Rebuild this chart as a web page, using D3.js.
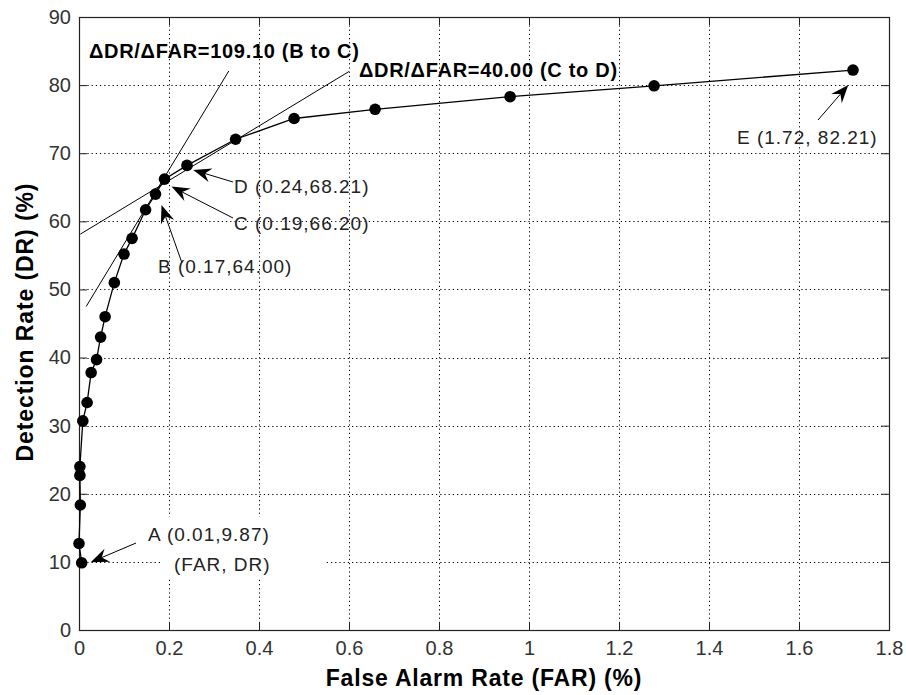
<!DOCTYPE html>
<html>
<head>
<meta charset="utf-8">
<script src="https://cdn.jsdelivr.net/npm/d3@7"></script>
<style>
  body { margin: 0; background: #fff; }
  svg { display: block; font-family: "Liberation Sans", Arial, Helvetica, sans-serif; }
</style>
</head>
<body>
<svg id="chart" width="906" height="695"></svg>
<script>
// ROC operating points of the detector
const far = [0.006, 0.000, 0.003, 0.002, 0.002, 0.0085, 0.018, 0.027, 0.039, 0.048, 0.058, 0.0785,
             0.100, 0.118, 0.148, 0.17, 0.19, 0.24, 0.348, 0.478, 0.658, 0.958, 1.278, 1.72];
const dr  = [9.87, 12.7, 18.35, 22.7, 24.0, 30.7, 33.4, 37.8, 39.7, 43.0, 46.0, 51.0,
             55.2, 57.5, 61.7, 64.00, 66.20, 68.21, 72.05, 75.1, 76.45, 78.3, 79.9, 82.21];

const xTicks = [0, 0.2, 0.4, 0.6, 0.8, 1, 1.2, 1.4, 1.6, 1.8];
const yTicks = [0, 10, 20, 30, 40, 50, 60, 70, 80, 90];

// Named operating points
const markNames = ["A", "B", "C", "D", "E"];
const markIndex = [0, 15, 16, 17, 23];
const markSep   = [",", ",", ",", ",", ", "];

// Tangent lines (slope in DR per FAR)
const tangentNames  = ["B to C", "C to D"];
const tangentSlopes = [109.10, 40.00];
const tangentAnchorFar = [0.17, 0.30];
const tangentAnchorDr  = [64.3, 70.0];
const tangentFrom = [0.016, 0.003];
const tangentTo   = [0.333, 0.600];

const svg = d3.select("#chart");
const L = 79, R = 889, T = 17, B = 630;

const x = d3.scaleLinear().domain([0, 1.8]).range([L, R]);
const y = d3.scaleLinear().domain([0, 90]).range([B, T]);

// dotted grid
const grid = svg.append("g");
xTicks.slice(1, -1).forEach(d => {
  const gxp = Math.round(x(d)) + 0.5;
  grid.append("line").attr("x1", gxp).attr("x2", gxp).attr("y1", T).attr("y2", B)
    .attr("stroke", "#000").attr("stroke-width", 1).attr("stroke-dasharray", "1.2,3");
});
yTicks.slice(1, -1).forEach(d => {
  const gyp = Math.round(y(d)) + 0.5;
  grid.append("line").attr("x1", L).attr("x2", R).attr("y1", gyp).attr("y2", gyp)
    .attr("stroke", "#000").attr("stroke-width", 1).attr("stroke-dasharray", "1.2,3");
});

// white box behind the A annotation
svg.append("rect").attr("x", 163).attr("y", 517).attr("width", 162).attr("height", 61).attr("fill", "#fff");

// axes with inward ticks on all sides
const fmt = d => String(d);
const tickLen = 8;
const gx = svg.append("g").attr("transform", `translate(0,${B})`)
  .call(d3.axisBottom(x).tickValues(xTicks).tickFormat(fmt).tickSizeInner(-tickLen).tickSizeOuter(0).tickPadding(11));
const gy = svg.append("g").attr("transform", `translate(${L},0)`)
  .call(d3.axisLeft(y).tickValues(yTicks).tickFormat(fmt).tickSizeInner(-tickLen).tickSizeOuter(0).tickPadding(8));
const gt = svg.append("g").attr("transform", `translate(0,${T})`)
  .call(d3.axisTop(x).tickValues(xTicks).tickFormat("").tickSizeInner(-tickLen).tickSizeOuter(0));
const gr = svg.append("g").attr("transform", `translate(${R},0)`)
  .call(d3.axisRight(y).tickValues(yTicks).tickFormat("").tickSizeInner(-tickLen).tickSizeOuter(0));
[gx, gy, gt, gr].forEach(g => {
  g.select(".domain").remove();
  g.selectAll(".tick line").attr("stroke", "#222");
  g.selectAll(".tick text").attr("font-size", 20).attr("fill", "#333")
    .attr("font-family", "'Liberation Sans', Arial, sans-serif");
});
svg.append("rect").attr("x", L + 0.5).attr("y", T + 0.5).attr("width", R - L).attr("height", B - T)
  .attr("fill", "none").attr("stroke", "#222").attr("stroke-width", 1.2);

// axis titles
svg.append("text").attr("x", (L + R) / 2).attr("y", 686).attr("text-anchor", "middle")
  .attr("font-size", 23).attr("font-weight", "bold").attr("letter-spacing", 0.8)
  .text("False Alarm Rate (FAR) (%)");
svg.append("text").attr("transform", `translate(33,${322}) rotate(-90)`).attr("text-anchor", "middle")
  .attr("font-size", 23).attr("font-weight", "bold").attr("letter-spacing", 0.9)
  .text("Detection Rate (DR) (%)");

// tangent lines
tangentSlopes.forEach((s, i) => {
  const f0 = tangentFrom[i], f1 = tangentTo[i];
  const d0 = tangentAnchorDr[i] + s * (f0 - tangentAnchorFar[i]);
  const d1 = tangentAnchorDr[i] + s * (f1 - tangentAnchorFar[i]);
  svg.append("line").attr("x1", x(f0)).attr("y1", y(d0)).attr("x2", x(f1)).attr("y2", y(d1))
    .attr("stroke", "#000").attr("stroke-width", 1);
});

// ROC curve
const pts = far.map((f, i) => [f, dr[i]]);
svg.append("path").datum(pts)
  .attr("d", d3.line().x(d => x(d[0])).y(d => y(d[1])))
  .attr("fill", "none").attr("stroke", "#000").attr("stroke-width", 1.3);
svg.selectAll("circle.pt").data(pts).join("circle")
  .attr("cx", d => x(d[0])).attr("cy", d => y(d[1])).attr("r", 5.8).attr("fill", "#000");

// slope captions
const tangentTextPos = [[89, 58], [359, 77]];
tangentSlopes.forEach((s, i) => {
  svg.append("text").attr("x", tangentTextPos[i][0]).attr("y", tangentTextPos[i][1])
    .attr("font-size", 20).attr("font-weight", "bold").attr("letter-spacing", 0.7)
    .text(`\u0394DR/\u0394FAR=${s.toFixed(2)} (${tangentNames[i]})`);
});

// point annotations: arrow tip offset from point, tail, text position
const annot = [
  { tip: [9, -0.5],  tail: [136, 543], text: [148, 541] },
  { tip: [6, 11],    tail: [182, 263], text: [158, 273] },
  { tip: [7, 7.5],   tail: [233, 218], text: [234, 230] },
  { tip: [6.3, 4.6], tail: [233, 182], text: [234, 193] },
  { tip: [-4.7, 15], tail: [818, 120], text: [737, 144] }
];
const f2 = v => v.toFixed(2);
markIndex.forEach((idx, k) => {
  const a = annot[k];
  const px = x(far[idx]), py = y(dr[idx]);
  const tx = px + a.tip[0], ty = py + a.tip[1];
  const [sx, sy] = a.tail;
  const dx = tx - sx, dy = ty - sy, len = Math.hypot(dx, dy);
  const ux = dx / len, uy = dy / len, nx = -uy, ny = ux;
  const HL = 18, HW = 7, NOTCH = 6;
  svg.append("line").attr("x1", sx).attr("y1", sy)
    .attr("x2", tx - ux * (HL - NOTCH)).attr("y2", ty - uy * (HL - NOTCH))
    .attr("stroke", "#000").attr("stroke-width", 1);
  const head = [
    [tx, ty],
    [tx - ux * HL + nx * HW, ty - uy * HL + ny * HW],
    [tx - ux * (HL - NOTCH), ty - uy * (HL - NOTCH)],
    [tx - ux * HL - nx * HW, ty - uy * HL - ny * HW]
  ];
  svg.append("path").attr("d", "M" + head.map(p => p.join(",")).join("L") + "Z").attr("fill", "#000");
  svg.append("text").attr("x", a.text[0]).attr("y", a.text[1])
    .attr("font-size", 19).attr("letter-spacing", 1).attr("fill", "#222")
    .text(`${markNames[k]} (${f2(far[idx])}${markSep[k]}${f2(dr[idx])})`);
  if (markNames[k] === "A") {
    svg.append("text").attr("x", 174).attr("y", 571)
      .attr("font-size", 19).attr("letter-spacing", 1).attr("fill", "#222")
      .text("(FAR, DR)");
  }
});
</script>
</body>
</html>
